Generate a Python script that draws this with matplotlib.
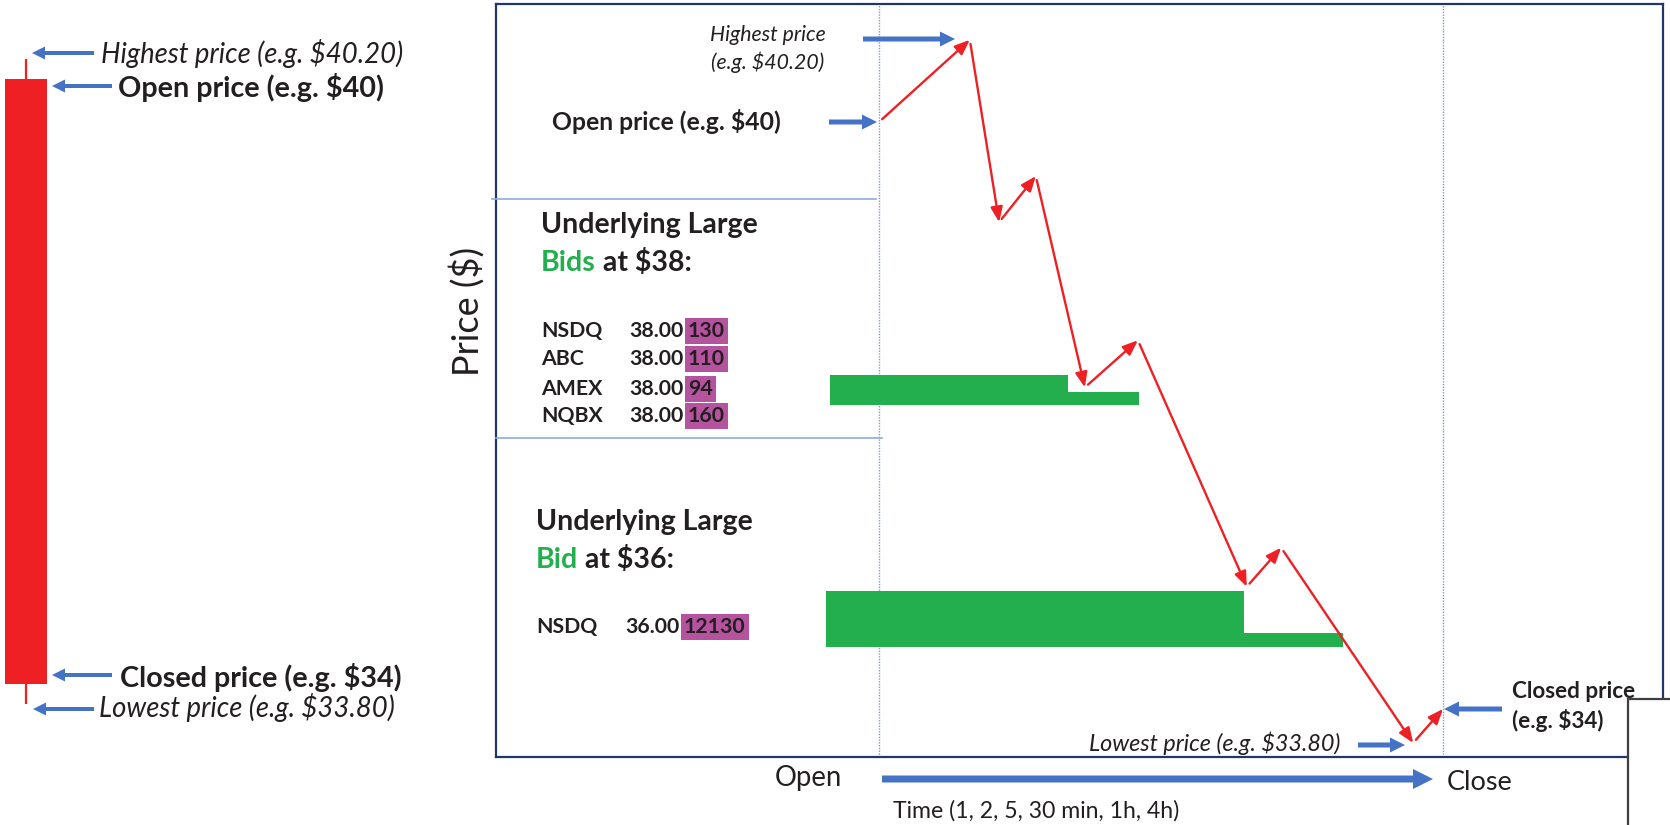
import matplotlib
matplotlib.use("Agg")
import matplotlib.pyplot as plt
from matplotlib.patches import FancyArrowPatch, Rectangle

plt.rcParams["font.family"] = ["Lato", "DejaVu Sans"]

RED = "#EE2024"
BLUE = "#4472C4"
GREEN = "#24AF4F"
PURPLE = "#B5539F"
INK = "#231F20"
FRAME = "#1F3864"

# candle on the left ($)
candle_open = 40.00
candle_close = 34.00
candle_high = 40.20
candle_low = 33.80

# intraday path: time in % of the session (0 = open, 100 = close), price in $
path_time = [0, 16.1, 21.3, 27.8, 36.5, 45.9, 65.2, 71.3, 94.7, 100]
path_price = [40.00, 40.82, 39.00, 39.46, 37.35, 37.82, 35.36, 35.75, 33.80, 34.14]

# resting bid "walls" drawn as green blocks
wall_start = [-8.7, 33.5, -9.4, 64.7]
wall_end = [33.5, 46.1, 64.7, 82.3]
wall_bottom = [37.17, 37.17, 34.76, 34.76]
wall_top = [37.47, 37.30, 35.32, 34.90]

# order book tables
bids38_venue = ["NSDQ", "ABC", "AMEX", "NQBX"]
bids38_price = ["38.00", "38.00", "38.00", "38.00"]
bids38_size = ["130", "110", "94", "160"]
bids36_venue = ["NSDQ"]
bids36_price = ["36.00"]
bids36_size = ["12130"]

W, H = 1670, 825
fig = plt.figure(figsize=(W / 100, H / 100), dpi=100)

# ---- candle
axc = fig.add_axes([0, 0, 60 / W, 1])
axc.set_xlim(0, 60)
axc.set_ylim(32.595, 40.789)
axc.axis("off")
axc.vlines(26, candle_low, candle_high, color=RED, lw=1.6, zorder=1)
axc.bar(26, candle_open - candle_close, bottom=candle_close, width=42,
        color=RED, zorder=2)

# ---- main panel (time vs price)
ax = fig.add_axes([496 / W, (H - 757) / H, (1663 - 496) / W, (757 - 4) / H])
ax.set_xlim(-67.91, 139.0)
ax.set_ylim(33.66, 41.178)
ax.set_xticks([])
ax.set_yticks([])
for s in ax.spines.values():
    s.set_color(FRAME)
    s.set_linewidth(1.6)
for t in (0, 100):
    ax.axvline(t, color="#7F9BD6", lw=1.0, ls=(0, (1, 1)), zorder=1)

for x0, x1, b, t in zip(wall_start, wall_end, wall_bottom, wall_top):
    ax.barh(b, x1 - x0, height=t - b, left=x0, align="edge",
            color=GREEN, lw=0, zorder=2)

for i in range(len(path_time) - 1):
    ax.add_patch(FancyArrowPatch(
        (path_time[i], path_price[i]), (path_time[i + 1], path_price[i + 1]),
        arrowstyle="-|>,head_length=9,head_width=3.6", mutation_scale=1,
        color=RED, lw=1.7, shrinkA=3, shrinkB=0, zorder=3))

# ---- overlay in pixel coordinates for labels and pointer arrows
ov = fig.add_axes([0, 0, 1, 1], zorder=5)
ov.set_xlim(0, W)
ov.set_ylim(H, 0)
ov.axis("off")


def blue_arrow(x0, y0, x1, y1, tail=5, head_w=15, head_l=15):
    style = "simple,tail_width=%.2f,head_width=%.2f,head_length=%.2f" % (
        tail * 0.72, head_w * 0.72, head_l * 0.72)
    ov.add_patch(FancyArrowPatch((x0, y0), (x1, y1), arrowstyle=style,
                                 mutation_scale=1, color=BLUE, lw=0,
                                 shrinkA=0, shrinkB=0))


def txt(x, y, s, size, weight="normal", style="normal", color=INK, ha="left", **kw):
    return ov.text(x, y, s, fontsize=size, fontweight=weight, fontstyle=style,
                   color=color, ha=ha, va="center", **kw)


# left candle labels
blue_arrow(94, 53, 32, 53, tail=4, head_w=13, head_l=13)
blue_arrow(112, 86, 52, 86, tail=4, head_w=13, head_l=13)
blue_arrow(112, 675, 52, 675, tail=4, head_w=13, head_l=13)
blue_arrow(94, 709, 33, 709, tail=4, head_w=13, head_l=13)
txt(101, 53, "Highest price (e.g. $40.20)", 19.8, style="italic")
txt(118, 88, "Open price (e.g. $40)", 20.7, weight="bold")
txt(120, 678, "Closed price (e.g. $34)", 20.7, weight="bold")
txt(99, 708, "Lowest price (e.g. $33.80)", 19.8, style="italic")

# dividers
ov.plot([492, 876], [199, 199], color="#8FAADC", lw=1.2)
ov.plot([496, 882], [438, 438], color="#8FAADC", lw=1.2)

# price axis label
txt(467, 311, "Price ($)", 26, rotation=90, ha="center")

# labels inside the panel
txt(768, 35, "Highest price", 15.3, style="italic", ha="center")
txt(768, 62, "(e.g. $40.20)", 15.3, style="italic", ha="center")
blue_arrow(863, 39, 955, 39, tail=5, head_w=15, head_l=15)
txt(552, 121, "Open price (e.g. $40)", 17.8, weight="bold")
blue_arrow(829, 122, 877, 122, tail=5, head_w=15, head_l=15)


def two_tone(x, y, green, rest, size):
    t1 = ov.text(x, y, green, fontsize=size, fontweight="bold", color=GREEN,
                 ha="left", va="center")
    ov.annotate(rest, xy=(1, 0), xycoords=t1, fontsize=size, fontweight="bold",
                color=INK, ha="left", va="bottom")


txt(541, 225, "Underlying Large", 20.5, weight="bold")
two_tone(541, 263, "Bids", " at $38:", 20.5)
row_y = [331, 359, 389, 416]
for y, v, p, s in zip(row_y, bids38_venue, bids38_price, bids38_size):
    txt(541, y, v, 15.3, weight="bold")
    txt(684, y, p, 15.3, weight="bold", ha="right")
    txt(688, y, s, 15.3, weight="bold",
        bbox=dict(boxstyle="square,pad=0.15", fc=PURPLE, ec="none"))

txt(536, 522, "Underlying Large", 20.5, weight="bold")
two_tone(536, 560, "Bid", " at $36:", 20.5)
for v, p, s in zip(bids36_venue, bids36_price, bids36_size):
    txt(536, 627, v, 15.3, weight="bold")
    txt(680, 627, p, 15.3, weight="bold", ha="right")
    txt(684, 627, s, 15.3, weight="bold",
        bbox=dict(boxstyle="square,pad=0.15", fc=PURPLE, ec="none"))

txt(1340, 743, "Lowest price (e.g. $33.80)", 16.8, style="italic", ha="right")
blue_arrow(1358, 745, 1405, 745, tail=5, head_w=15, head_l=15)
txt(1512, 691, "Closed price", 16.2, weight="bold")
txt(1512, 720, "(e.g. $34)", 16.2, weight="bold")
blue_arrow(1502, 709, 1444, 709, tail=5, head_w=15, head_l=15)

# cropped shape at the bottom right corner
ov.add_patch(Rectangle((1628, 699), 60, 140, fc="white", ec="#3F3F3F", lw=1.6,
                       clip_on=False, zorder=6))

# time axis
txt(808, 778, "Open", 19.8, ha="center")
blue_arrow(882, 779, 1433, 779, tail=7, head_w=20, head_l=20)
txt(1447, 783, "Close", 19.5)
txt(1036, 811, "Time (1, 2, 5, 30 min, 1h, 4h)", 16.6, ha="center")

fig.savefig("out.png", dpi=100)
